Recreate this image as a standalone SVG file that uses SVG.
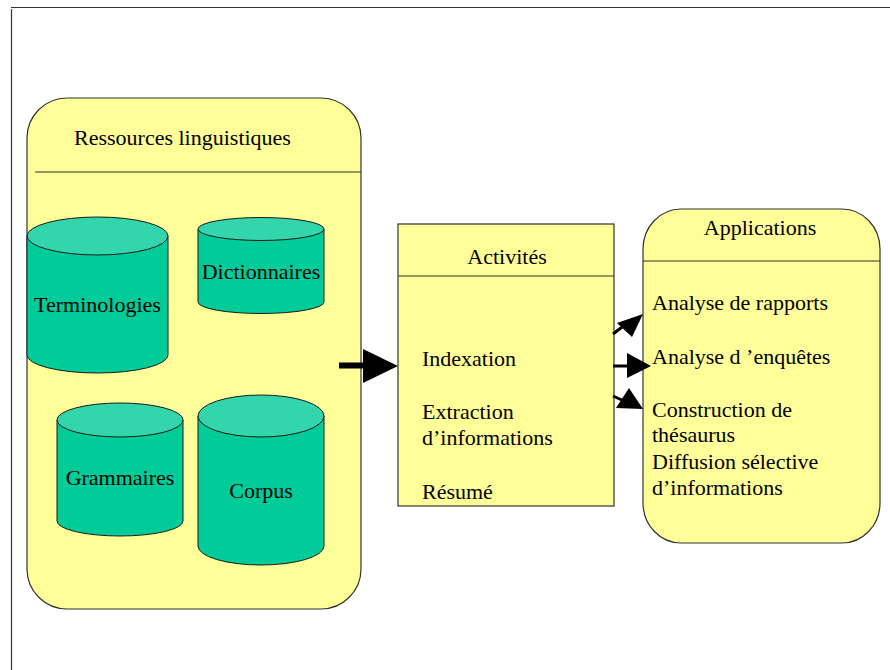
<svg xmlns="http://www.w3.org/2000/svg" width="890" height="670" viewBox="0 0 890 670">
  <style>
    .panel { fill: #FFFF99; stroke: #333333; stroke-width: 1.2; }
    .rule { stroke: #333333; stroke-width: 1.2; fill: none; }
    .body { fill: #00CC99; stroke: #1a1a1a; stroke-width: 1; }
    .lid { fill: #33D6AA; stroke: #1a1a1a; stroke-width: 1; }
    .t { font-family: "Liberation Serif", "Times New Roman", serif; font-size: 22px; fill: #000000; }
    .c { text-anchor: middle; }
    .conn { stroke: #000000; fill: none; }
    .head { fill: #000000; stroke: none; }
  </style>

  <rect width="890" height="670" fill="#ffffff"/>
  <!-- page frame -->
  <path class="rule" d="M11 7.5 H890 M11.5 9 V670" stroke="#000000" stroke-width="1.5"/>

  <!-- linguistic resources container -->
  <g id="ressources">
    <rect class="panel" x="27" y="98" width="334" height="511" rx="40" ry="40"/>
    <line class="rule" x1="35" y1="172" x2="361" y2="172"/>
    <text class="t" x="74" y="145">Ressources linguistiques</text>
  </g>

  <g id="terminologies">
    <path class="body" d="M27 236 V355 A70.5 18 0 0 0 168 355 V236 Z"/>
    <ellipse class="lid" cx="97.5" cy="236" rx="70.5" ry="19"/>
    <text class="t c" x="97.5" y="312">Terminologies</text>
  </g>

  <g id="dictionnaires">
    <path class="body" d="M198 229 V302 A63 11.5 0 0 0 324 302 V229 Z"/>
    <ellipse class="lid" cx="261" cy="229" rx="63" ry="11.5"/>
    <text class="t c" x="261" y="279">Dictionnaires</text>
  </g>

  <g id="grammaires">
    <path class="body" d="M57 420 V521 A63 15 0 0 0 183 521 V420 Z"/>
    <ellipse class="lid" cx="120" cy="420" rx="63" ry="17"/>
    <text class="t c" x="120" y="485">Grammaires</text>
  </g>

  <g id="corpus">
    <path class="body" d="M198 416 V546 A63 19 0 0 0 324 546 V416 Z"/>
    <ellipse class="lid" cx="261" cy="416" rx="63" ry="21"/>
    <text class="t c" x="261" y="498">Corpus</text>
  </g>

  <!-- activities box -->
  <g id="activites">
    <rect class="panel" x="398" y="224" width="216" height="282"/>
    <line class="rule" x1="398" y1="276" x2="614" y2="276"/>
    <text class="t c" x="507" y="264">Activités</text>
    <text class="t" x="422" y="366">Indexation</text>
    <text class="t" x="422" y="419">Extraction</text>
    <text class="t" x="422" y="445">d’informations</text>
    <text class="t" x="422" y="499">Résumé</text>
  </g>

  <!-- applications box -->
  <g id="applications">
    <rect class="panel" x="643" y="209" width="237" height="334" rx="38" ry="40"/>
    <line class="rule" x1="643" y1="261" x2="880" y2="261"/>
    <text class="t c" x="760" y="235">Applications</text>
    <text class="t" x="652" y="310">Analyse de rapports</text>
    <text class="t" x="652" y="364">Analyse d ’enquêtes</text>
    <text class="t" x="652" y="417">Construction de</text>
    <text class="t" x="652" y="442">thésaurus</text>
    <text class="t" x="652" y="469">Diffusion sélective</text>
    <text class="t" x="652" y="495">d’informations</text>
  </g>

  <!-- connectors -->
  <g id="connectors">
    <line class="conn" x1="339" y1="365.5" x2="364" y2="365.5" stroke-width="6"/>
    <polygon class="head" points="363,349 398,366 363,383"/>

    <line class="conn" x1="613" y1="334" x2="626" y2="324" stroke-width="3"/>
    <polygon class="head" points="643,314 617,323 632,337"/>

    <line class="conn" x1="613" y1="366" x2="628" y2="366" stroke-width="3"/>
    <polygon class="head" points="627,353 651,366 627,378"/>

    <line class="conn" x1="613" y1="396" x2="624" y2="401" stroke-width="3"/>
    <polygon class="head" points="629,388 643,409 616,408"/>
  </g>
</svg>
